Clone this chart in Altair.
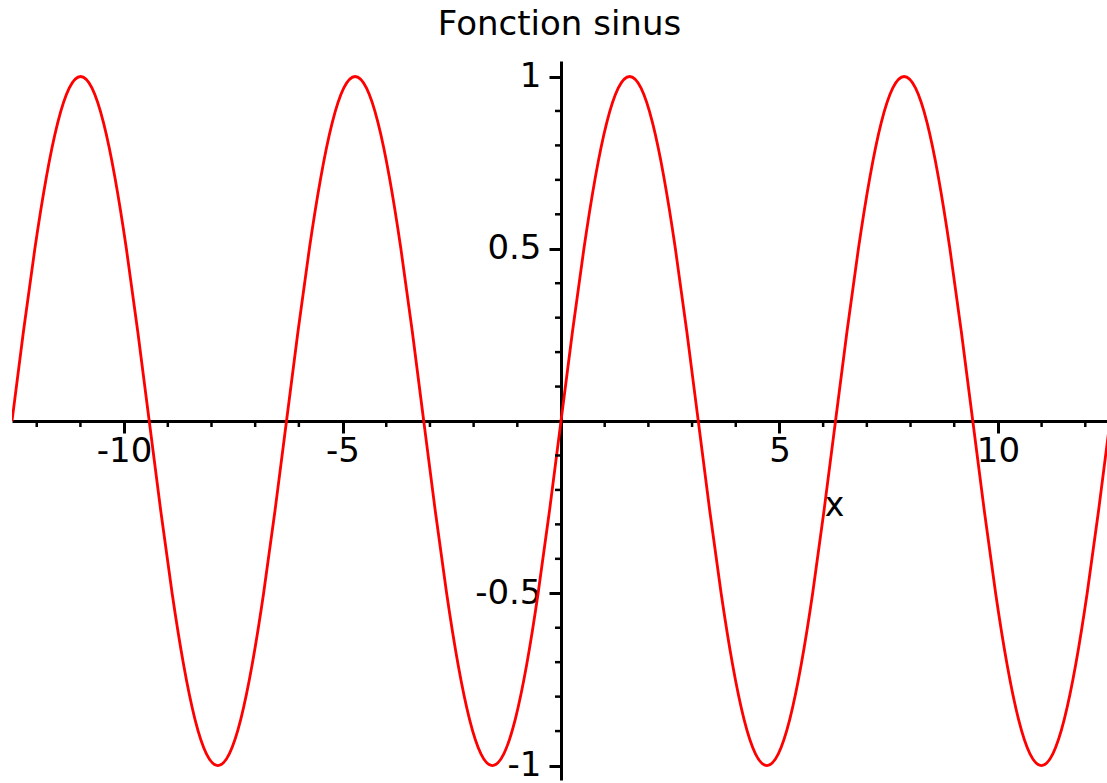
import altair as alt
import pandas as pd

# Sample points of the curve (x in radians, step pi/12) and its values
x_vals = [
    -12.566, -12.305, -12.043, -11.781, -11.519, -11.257, -10.996, -10.734,
    -10.472, -10.210, -9.948, -9.687, -9.425, -9.163, -8.901, -8.639,
    -8.378, -8.116, -7.854, -7.592, -7.330, -7.069, -6.807, -6.545,
    -6.283, -6.021, -5.760, -5.498, -5.236, -4.974, -4.712, -4.451,
    -4.189, -3.927, -3.665, -3.403, -3.142, -2.880, -2.618, -2.356,
    -2.094, -1.833, -1.571, -1.309, -1.047, -0.785, -0.524, -0.262,
    0.0,
    0.262, 0.524, 0.785, 1.047, 1.309, 1.571, 1.833, 2.094,
    2.356, 2.618, 2.880, 3.142, 3.403, 3.665, 3.927, 4.189,
    4.451, 4.712, 4.974, 5.236, 5.498, 5.760, 6.021, 6.283,
    6.545, 6.807, 7.069, 7.330, 7.592, 7.854, 8.116, 8.378,
    8.639, 8.901, 9.163, 9.425, 9.687, 9.948, 10.210, 10.472,
    10.734, 10.996, 11.257, 11.519, 11.781, 12.043, 12.305, 12.566,
]
y_vals = [
    0.0, 0.259, 0.5, 0.707, 0.866, 0.966, 1.0, 0.966, 0.866, 0.707, 0.5, 0.259,
    0.0, -0.259, -0.5, -0.707, -0.866, -0.966, -1.0, -0.966, -0.866, -0.707, -0.5, -0.259,
    0.0, 0.259, 0.5, 0.707, 0.866, 0.966, 1.0, 0.966, 0.866, 0.707, 0.5, 0.259,
    0.0, -0.259, -0.5, -0.707, -0.866, -0.966, -1.0, -0.966, -0.866, -0.707, -0.5, -0.259,
    0.0, 0.259, 0.5, 0.707, 0.866, 0.966, 1.0, 0.966, 0.866, 0.707, 0.5, 0.259,
    0.0, -0.259, -0.5, -0.707, -0.866, -0.966, -1.0, -0.966, -0.866, -0.707, -0.5, -0.259,
    0.0, 0.259, 0.5, 0.707, 0.866, 0.966, 1.0, 0.966, 0.866, 0.707, 0.5, 0.259,
    0.0, -0.259, -0.5, -0.707, -0.866, -0.966, -1.0, -0.966, -0.866, -0.707, -0.5, -0.259,
    0.0,
]

# Tick positions
x_major = [-10, -5, 5, 10]
x_minor = [-12, -11, -9, -8, -7, -6, -4, -3, -2, -1, 1, 2, 3, 4, 6, 7, 8, 9, 11, 12]
y_major = [-1, -0.5, 0.5, 1]
y_minor = [-0.9, -0.8, -0.7, -0.6, -0.4, -0.3, -0.2, -0.1,
           0.1, 0.2, 0.3, 0.4, 0.6, 0.7, 0.8, 0.9]

curve = pd.DataFrame({"x": x_vals, "y": y_vals})

FONT = "DejaVu Sans"

x_scale = alt.Scale(domain=[-12.566, 12.497], nice=False, zero=False)
y_scale = alt.Scale(domain=[-1.042, 1.045], nice=False, zero=False)

# Axes drawn through the origin (negative offsets pull them into the plot)
x_axis = alt.Axis(
    orient="bottom", offset=-359, values=x_major,
    labelExpr="toString(datum.value)",
    tickSize=12, tickWidth=3, tickColor="black",
    domainColor="black", domainWidth=3,
    labelFont=FONT, labelFontSize=34, labelColor="black",
    labelPadding=1, labelFlush=False, labelOverlap=False, grid=False,
    title="x", titleFont=FONT, titleFontSize=33, titleFontWeight="normal",
    titleColor="black", titleX=822, titleY=94,
    titleAlign="center", titleBaseline="alphabetic",
)
y_axis = alt.Axis(
    orient="left", offset=-549, values=y_major,
    labelExpr="toString(datum.value)",
    tickSize=12, tickWidth=3, tickColor="black",
    domainColor="black", domainWidth=3,
    labelFont=FONT, labelFontSize=34, labelColor="black",
    labelPadding=8, labelFlush=False, labelOverlap=False, grid=False,
    title=None,
)

line = alt.Chart(curve).mark_line(
    color="#ff0000", strokeWidth=2.8, clip=True, interpolate="natural"
).encode(
    x=alt.X("x:Q", scale=x_scale, axis=x_axis),
    y=alt.Y("y:Q", scale=y_scale, axis=y_axis),
)

# Minor ticks: short marks below the x axis and left of the y axis
x_ticks = alt.Chart(pd.DataFrame({"t": x_minor})).mark_tick(
    orient="vertical", size=6, thickness=2.5, yOffset=3,
    color="black", opacity=1,
).encode(
    x=alt.X("t:Q", scale=x_scale),
    y=alt.datum(0),
)
y_ticks = alt.Chart(pd.DataFrame({"t": y_minor})).mark_tick(
    orient="horizontal", size=6, thickness=2.5, xOffset=-3,
    color="black", opacity=1,
).encode(
    x=alt.datum(0),
    y=alt.Y("t:Q", scale=y_scale),
)

chart = alt.layer(line, x_ticks, y_ticks).properties(
    width=1095,
    height=719,
    padding={"left": 12, "top": 61, "right": 0, "bottom": 3},
    autosize=alt.AutoSizeParams(type="none"),
    background="white",
    title=alt.TitleParams(
        "Fonction sinus", font=FONT, fontSize=34, fontWeight="normal",
        color="black", anchor="middle", frame="group",
        baseline="alphabetic", offset=28, dy=37,
    ),
).configure_view(stroke=None)

chart.save("out.html", embed_options={"renderer": "svg", "actions": False})
